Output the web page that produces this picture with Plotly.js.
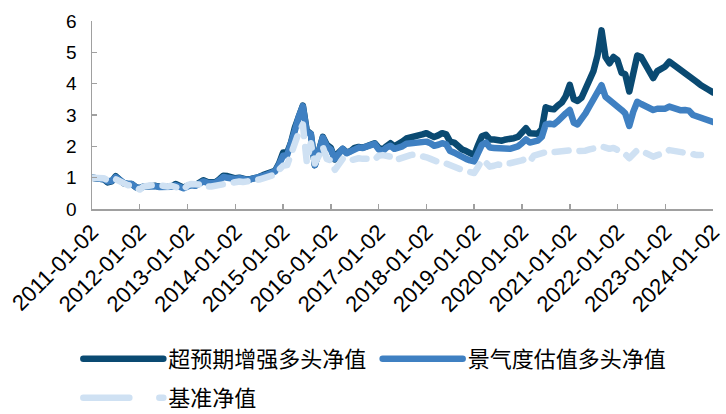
<!DOCTYPE html>
<html><head><meta charset="utf-8">
<script src="https://cdn.plot.ly/plotly-3.0.1.min.js"></script>
<style>html,body{margin:0;padding:0;background:#fff}</style>
</head><body><div id="chart" style="width:726px;height:414px"></div>
<script>
// monthly observation dates, 2011-01 .. 2024-01
const dates = [];
for (let y = 2011; y <= 2023; y++) for (let m = 1; m <= 12; m++) dates.push(y + '-' + String(m).padStart(2, '0') + '-02');
dates.push('2024-01-02');

const tickLabels = ['2011-01-02','2012-01-02','2013-01-02','2014-01-02','2015-01-02','2016-01-02','2017-01-02',
  '2018-01-02','2019-01-02','2020-01-02','2021-01-02','2022-01-02','2023-01-02','2024-01-02'];

const seriesNames = ['超预期增强多头净值', '景气度估值多头净值', '基准净值'];

const surpriseNav = [
  1.00,0.99,1.00,0.95,0.85,0.88,1.05,0.92,0.82,0.80,0.80,0.70, // 2011
  0.66,0.72,0.74,0.72,0.74,0.71,0.70,0.70,0.72,0.80,0.75,0.68, // 2012
  0.74,0.78,0.76,0.85,0.92,0.86,0.84,0.85,0.95,1.06,1.05,1.00, // 2013
  0.98,1.00,0.95,0.94,0.96,0.98,1.02,1.08,1.12,1.16,1.22,1.45, // 2014
  1.80,1.80,2.10,2.60,2.95,3.30,2.50,2.40,1.40,1.85,2.30,2.05, // 2015
  1.95,1.58,1.80,1.92,1.80,1.85,1.95,1.98,1.96,2.00,2.08,2.10, // 2016
  1.95,1.90,2.00,2.10,2.00,2.05,2.15,2.25,2.30,2.32,2.35,2.38, // 2017
  2.42,2.35,2.30,2.35,2.42,2.38,2.15,2.12,2.00,1.90,1.85,1.78, // 2018
  1.72,2.05,2.32,2.37,2.22,2.22,2.20,2.18,2.22,2.22,2.26,2.30, // 2019
  2.45,2.58,2.42,2.42,2.40,2.55,3.25,3.20,3.18,3.30,3.40,3.60, // 2020
  3.96,3.50,3.45,3.55,3.80,4.05,4.40,4.90,5.70,4.85,4.65,4.85, // 2021
  4.75,4.35,4.30,3.75,4.40,4.90,4.85,4.65,4.40,4.18,4.40,4.45, // 2022
  4.55,4.70,4.62,4.55,4.45,4.35,4.28,4.15,4.05,3.95,3.90,3.80, // 2023
  3.72
];
const prosperityNav = [
  1.00,0.99,1.00,0.95,0.88,0.90,1.02,0.92,0.83,0.80,0.80,0.70,
  0.66,0.72,0.73,0.72,0.73,0.70,0.70,0.70,0.71,0.76,0.72,0.66,
  0.72,0.76,0.74,0.82,0.88,0.84,0.82,0.83,0.92,1.02,1.00,0.97,
  0.96,0.98,0.94,0.93,0.95,0.97,1.00,1.06,1.10,1.14,1.20,1.42,
  1.70,1.72,2.05,2.50,2.95,3.28,2.45,2.40,1.40,1.85,2.28,2.00,
  1.90,1.60,1.78,1.92,1.78,1.85,1.94,1.96,1.95,1.98,2.05,2.08,
  1.90,1.85,1.96,2.02,1.92,1.95,2.00,2.08,2.10,2.12,2.12,2.14,
  2.15,2.10,2.02,2.05,2.10,2.06,1.85,1.80,1.72,1.65,1.60,1.55,
  1.52,1.80,2.05,2.12,1.96,1.95,1.94,1.90,1.90,1.92,1.96,2.00,
  2.10,2.22,2.12,2.15,2.18,2.30,2.70,2.72,2.70,2.80,2.95,3.05,
  3.16,2.75,2.70,2.85,3.05,3.28,3.50,3.80,3.95,3.58,3.48,3.42,
  3.27,3.16,3.05,2.65,3.10,3.42,3.35,3.27,3.20,3.16,3.20,3.18,
  3.20,3.27,3.22,3.18,3.15,3.16,3.14,3.00,2.95,2.90,2.85,2.82,
  2.78
];
const benchmarkNav = [
  1.00,1.00,1.02,0.98,0.92,0.90,0.95,0.87,0.82,0.76,0.75,0.66,
  0.62,0.72,0.76,0.76,0.77,0.74,0.72,0.72,0.74,0.72,0.66,0.62,
  0.76,0.80,0.78,0.78,0.80,0.72,0.72,0.74,0.80,0.82,0.85,0.84,
  0.86,0.88,0.86,0.87,0.88,0.90,0.94,0.98,1.02,1.05,1.10,1.25,
  1.38,1.40,1.75,2.15,2.45,2.70,1.50,2.10,1.45,1.70,1.98,1.60,
  1.55,1.25,1.45,1.60,1.52,1.55,1.62,1.62,1.60,1.62,1.60,1.58,
  1.70,1.72,1.70,1.67,1.55,1.60,1.65,1.68,1.72,1.74,1.72,1.68,
  1.65,1.60,1.55,1.50,1.50,1.45,1.38,1.36,1.28,1.22,1.20,1.18,
  1.15,1.35,1.56,1.48,1.35,1.38,1.42,1.40,1.46,1.46,1.48,1.51,
  1.55,1.60,1.52,1.70,1.75,1.78,1.85,1.85,1.82,1.84,1.85,1.85,
  1.90,1.88,1.85,1.83,1.86,1.90,1.92,1.96,2.00,1.96,1.92,1.95,
  1.88,1.82,1.75,1.62,1.72,1.88,1.86,1.78,1.75,1.67,1.72,1.75,
  1.80,1.88,1.86,1.88,1.85,1.80,1.82,1.75,1.72,1.72,null,null,
  null
];

const colors = ['#0a4a72', '#3f80c2', '#cfe1f3'];

const traces = [
  {x: dates, y: surpriseNav, name: seriesNames[0], type: 'scatter', mode: 'lines',
   line: {color: colors[0], width: 6.5}, legend: 'legend'},
  {x: dates, y: prosperityNav, name: seriesNames[1], type: 'scatter', mode: 'lines',
   line: {color: colors[1], width: 6.5}, legend: 'legend3'},
  {x: dates, y: benchmarkNav, name: seriesNames[2], type: 'scatter', mode: 'lines',
   line: {color: colors[2], width: 6.5, dash: '14px,11px'}, legend: 'legend2'}
];

const axisCommon = {showgrid: false, zeroline: false, showline: true, linecolor: '#a0a0a0', linewidth: 1.5,
  ticks: 'inside', ticklen: 5, tickcolor: '#a0a0a0', tickwidth: 1.5, automargin: false,
  tickfont: {family: 'Liberation Sans, Arial, sans-serif', size: 19, color: '#000'}};

const legendFont = {family: 'Noto Sans CJK SC, sans-serif', size: 22, color: '#000'};
const legendBase = {orientation: 'h', xanchor: 'left', yanchor: 'top', font: legendFont, itemwidth: 80,
  bgcolor: 'rgba(0,0,0,0)'};

const layout = {
  width: 726, height: 414,
  margin: {l: 92, r: 13, t: 21, b: 205, autoexpand: false},
  paper_bgcolor: '#fff', plot_bgcolor: '#fff',
  showlegend: true,
  xaxis: Object.assign({}, axisCommon, {type: 'date', range: ['2011-01-02', '2024-01-02'],
    tickmode: 'array', tickvals: tickLabels, ticktext: tickLabels, tickangle: -45,
    tickfont: {family: 'Liberation Sans, Arial, sans-serif', size: 22, color: '#000'}}),
  yaxis: Object.assign({}, axisCommon, {range: [0, 6], dtick: 1, tick0: 0, ticklabelstandoff: 10}),
  legend: Object.assign({}, legendBase, {x: -0.022, y: -0.686}),
  legend3: Object.assign({}, legendBase, {x: 0.46, y: -0.686}),
  legend2: Object.assign({}, legendBase, {x: -0.022, y: -0.894})
};

Plotly.newPlot('chart', traces, layout, {displayModeBar: false, staticPlot: true}).then(function () {
  document.querySelectorAll('.scatterlayer path.js-line, .legend path.js-line, .legend2 path.js-line, .legend3 path.js-line').forEach(function (p) {
    p.style.strokeLinecap = 'round';
    p.style.strokeLinejoin = 'round';
  });
  document.querySelectorAll('.legend2 path.js-line').forEach(function (p) {
    p.style.strokeDasharray = '46px,30px';
  });
});
</script>
</body></html>
